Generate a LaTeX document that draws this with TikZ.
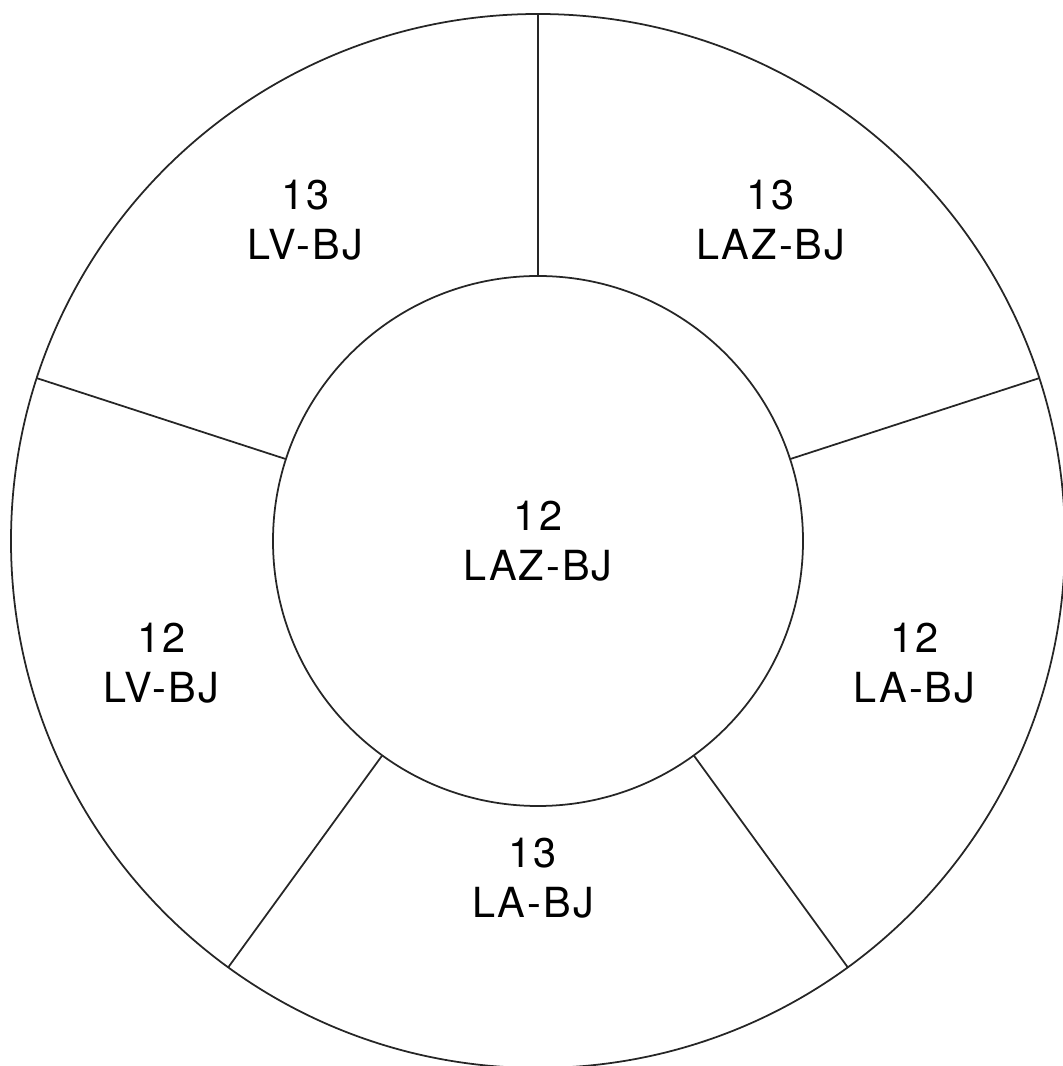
\documentclass[tikz,border=0pt]{standalone}
\usepackage{fontspec}
\setmainfont{TeX Gyre Heros}[LetterSpace=5]

\begin{document}
\begin{tikzpicture}[line width=0.5pt,
    sector/.style={align=center,inner sep=0pt,font=\fontsize{11.8}{14.2}\selectfont}]
  \useasboundingbox (-5.38,-5.25) rectangle (5.24,5.41);
  \coordinate (O) at (0,0);
  \foreach \a/\n in {90/A,162/B,234/C,306/D,18/E}{
    \coordinate (\n1) at (\a:2.65);
    \coordinate (\n2) at (\a:5.27);
  }

  \draw[black!85] (O) circle (5.27);
  \draw[black!85] (O) circle (2.65);
  \draw[black!85] (A1) -- (A2) (B1) -- (B2) (C1) -- (C2) (D1) -- (D2) (E1) -- (E2);

  \node[sector] (mid) at (0,0) {12\\LAZ-BJ};
  \node[sector] (nw) at (126:3.96) {13\\LV-BJ};
  \node[sector] (ne) at (54:3.96) {13\\LAZ-BJ};
  \node[sector] (w) at (198:3.96) {12\\LV-BJ};
  \node[sector] (e) at (342:3.96) {12\\LA-BJ};
  \node[sector] (s) at (-0.05,-3.37) {13\\LA-BJ};
\end{tikzpicture}
\end{document}
